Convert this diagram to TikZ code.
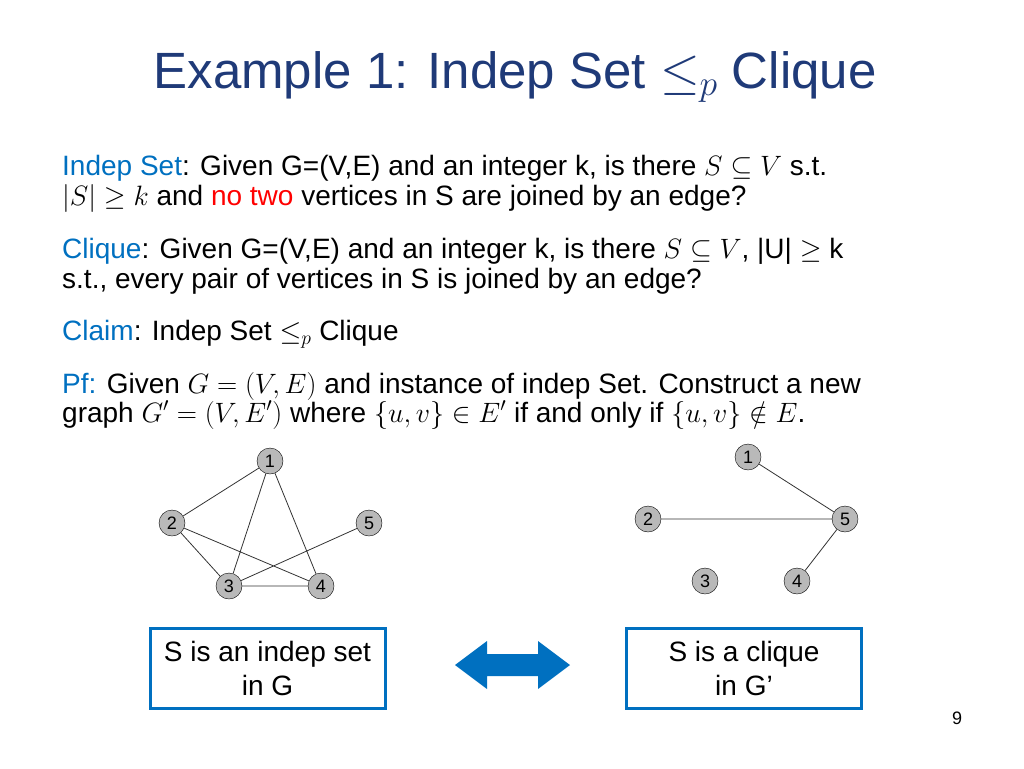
\RequirePackage{fix-cm}
\documentclass[tikz,border=0pt]{standalone}
\usepackage{fontspec}
\setmainfont{Liberation Sans}
\definecolor{titleblue}{HTML}{1F3A78}
\definecolor{keyblue}{HTML}{0070C0}
\tikzset{
  vert/.style={circle,draw,fill=gray!55,minimum size=26pt,inner sep=0pt,font=\fontsize{18}{20}\selectfont},
  txt/.style={anchor=base west,inner sep=0pt,font=\fontsize{28}{30}\selectfont},
  claimbox/.style={draw=keyblue,line width=3pt,minimum width=235pt,minimum height=80pt,align=center,font=\fontsize{28}{34}\selectfont},
  gedge/.style={draw=black!80,line width=0.8pt}
}
\begin{document}
\begin{tikzpicture}[x=1pt,y=-1pt]
\useasboundingbox (0,0) rectangle (1024,768);
% title
\node[anchor=base,inner sep=0pt,text=titleblue,font=\fontsize{51}{56}\selectfont] (title) at (515,88) {Example 1: Indep Set $\le_p$ Clique};
% statement
\node[txt] (l1) at (62,175) {\textcolor{keyblue}{Indep Set}: Given G=(V,E) and an integer k, is there $S\subseteq V$ s.t.};
\node[txt] (l2) at (62,205) {$|S|\ge k$ and \textcolor{red}{no two} vertices in S are joined by an edge?};
\node[txt] (l3) at (62,258) {\textcolor{keyblue}{Clique}: Given G=(V,E) and an integer k, is there $S\subseteq V$, |U| $\ge$ k};
\node[txt] (l4) at (62,288) {s.t., every pair of vertices in S is joined by an edge?};
\node[txt] (l5) at (62,340) {\textcolor{keyblue}{Claim}: Indep Set $\le_p$ Clique};
\node[txt] (l6) at (62,393) {\textcolor{keyblue}{Pf:} Given $G=(V,E)$ and instance of indep Set. Construct a new};
\node[txt] (l7) at (62,422) {graph $G'=(V,E')$ where $\{u,v\}\in E'$ if and only if $\{u,v\}\notin E$.};
% graph G
\node[vert] (a1) at (270,461) {1};
\node[vert] (a2) at (172,523) {2};
\node[vert] (a5) at (369,523) {5};
\node[vert] (a3) at (229,586) {3};
\node[vert] (a4) at (321,586) {4};
\path[gedge] (a1) -- (a2) (a1) -- (a3) (a1) -- (a4) (a2) -- (a3)
  (a2) -- (a4) (a5) -- (a3) (a3) -- (a4);
% graph G'
\node[vert] (b1) at (748,457) {1};
\node[vert] (b2) at (648,519) {2};
\node[vert] (b5) at (845,519) {5};
\node[vert] (b3) at (705,581) {3};
\node[vert] (b4) at (797,581) {4};
\path[gedge] (b1) -- (b5) (b2) -- (b5) (b5) -- (b4);
% boxes
\node[claimbox] (left) at (267.5,668) {S is an indep set\\in G};
\node[claimbox] (right) at (744,668) {S is a clique\\in G’};
\fill[keyblue] (455,665) -- (487,641) -- (487,654) -- (538,654) -- (538,641)
  -- (570,665) -- (538,689) -- (538,676) -- (487,676) -- (487,689) -- cycle;
\node[anchor=base,inner sep=0pt,font=\fontsize{18}{20}\selectfont] (page) at (957,724) {9};
\end{tikzpicture}
\end{document}
